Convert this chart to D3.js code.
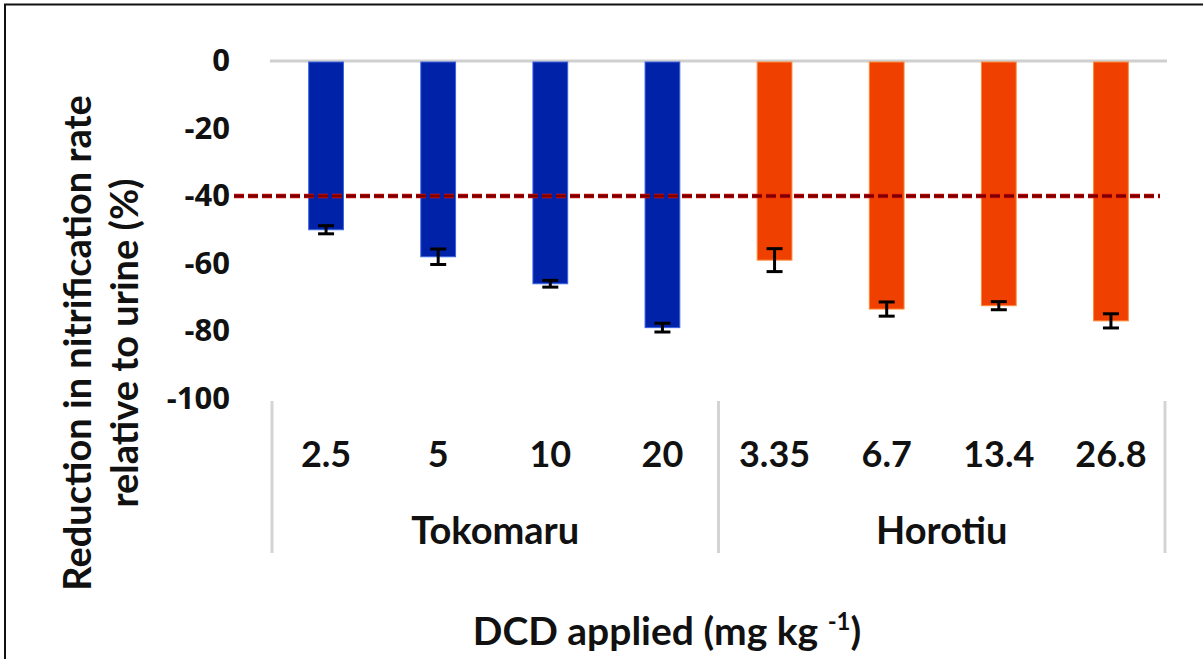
<!DOCTYPE html>
<html>
<head>
<meta charset="utf-8">
<script src="https://cdn.jsdelivr.net/npm/d3@7"></script>
<style>
  html, body { margin: 0; padding: 0; background: #fff; }
  svg { display: block; }
</style>
</head>
<body>
<div id="chart"></div>
<script>
// Data
const doses = ['2.5', '5', '10', '20', '3.35', '6.7', '13.4', '26.8'];
const sites = ['Tokomaru', 'Horotiu'];
const doseSite = ['Tokomaru', 'Tokomaru', 'Tokomaru', 'Tokomaru', 'Horotiu', 'Horotiu', 'Horotiu', 'Horotiu'];
const reduction = [-50, -58, -66, -79, -59, -73.5, -72.5, -77];
const errors = [1.2, 2.3, 1.0, 1.3, 3.4, 2.1, 1.2, 2.1];
const yTicks = [0, -20, -40, -60, -80, -100];
const threshold = -40;

const W = 1203, H = 659;
const plotLeft = 270, plotRight = 1167, plotTop = 61, plotBottom = 398.5;

const svg = d3.select('#chart').append('svg')
    .attr('width', W)
    .attr('height', H);

// frame: only top and left edges show in the source
svg.append('path')
    .attr('d', `M5,${H} V4.5 H${W}`)
    .attr('fill', 'none')
    .attr('stroke', '#111')
    .attr('stroke-width', 2);

const x = d3.scaleBand()
    .domain(doses)
    .range([plotLeft, plotRight])
    .paddingInner(0.69)
    .paddingOuter(0.345);

const y = d3.scaleLinear()
    .domain([-100, 0])
    .range([plotBottom, plotTop]);

const color = d3.scaleOrdinal()
    .domain(sites)
    .range(['#0022a8', '#f04000']);
const edge = d3.scaleOrdinal()
    .domain(sites)
    .range(['#3a63e0', '#ff8a3a']);

// zero line
svg.append('line')
    .attr('x1', plotLeft).attr('x2', plotRight)
    .attr('y1', y(0)).attr('y2', y(0))
    .attr('stroke', '#cfcfcf')
    .attr('stroke-width', 3);

// y axis (plain hyphen minus, as in the source)
const yAxis = svg.append('g')
    .attr('transform', `translate(${plotLeft},0)`)
    .call(d3.axisLeft(y).tickValues(yTicks).tickFormat(d => String(d)).tickSize(0).tickPadding(40));
yAxis.select('.domain').remove();
yAxis.selectAll('text')
    .attr('font-family', '"Open Sans", sans-serif')
    .attr('font-weight', 'bold')
    .attr('font-size', 31)
    .attr('fill', '#111');

// bars
svg.selectAll('rect.bar')
    .data(doses)
    .enter()
    .append('rect')
    .attr('class', 'bar')
    .attr('x', d => x(d))
    .attr('y', y(0) + 1)
    .attr('width', x.bandwidth())
    .attr('height', (d, i) => y(reduction[i]) - y(0) - 1)
    .attr('fill', (d, i) => color(doseSite[i]))
    .attr('stroke', (d, i) => edge(doseSite[i]))
    .attr('stroke-width', 1);

// error bars
const err = svg.selectAll('g.err')
    .data(doses)
    .enter()
    .append('g')
    .attr('class', 'err')
    .attr('stroke', '#000')
    .attr('stroke-width', 3);
err.append('line')
    .attr('x1', d => x(d) + x.bandwidth() / 2)
    .attr('x2', d => x(d) + x.bandwidth() / 2)
    .attr('y1', (d, i) => y(reduction[i] + errors[i]))
    .attr('y2', (d, i) => y(reduction[i] - errors[i]));
[1, -1].forEach(s => {
    err.append('line')
        .attr('x1', d => x(d) + x.bandwidth() / 2 - 8)
        .attr('x2', d => x(d) + x.bandwidth() / 2 + 8)
        .attr('y1', (d, i) => y(reduction[i] + s * errors[i]))
        .attr('y2', (d, i) => y(reduction[i] + s * errors[i]));
});

// threshold line
svg.append('line')
    .attr('x1', 234).attr('x2', 1160)
    .attr('y1', y(threshold)).attr('y2', y(threshold))
    .attr('stroke', '#e01010')
    .attr('stroke-width', 4.5)
    .attr('stroke-dasharray', '10 4');
svg.append('line')
    .attr('x1', 234).attr('x2', 1160)
    .attr('y1', y(threshold)).attr('y2', y(threshold))
    .attr('stroke', '#7a0000')
    .attr('stroke-width', 3)
    .attr('stroke-dasharray', '10 4');

// category axis
const xAxis = svg.append('g')
    .attr('transform', `translate(0,${plotBottom})`)
    .call(d3.axisBottom(x).tickSize(0).tickPadding(43));
xAxis.select('.domain').remove();
xAxis.selectAll('text')
    .attr('font-family', 'Lato, sans-serif')
    .attr('font-weight', 'bold')
    .attr('font-size', 36)
    .attr('fill', '#111');

// group separators and names
const groupEdges = [x(doses[0]) - x.step() * 0.345 + 2, x(doses[4]) - x.step() * 0.345, x(doses[7]) + x.bandwidth() + x.step() * 0.345 - 2];
svg.selectAll('line.sep')
    .data(groupEdges)
    .enter()
    .append('line')
    .attr('class', 'sep')
    .attr('x1', d => d).attr('x2', d => d)
    .attr('y1', 401).attr('y2', 553)
    .attr('stroke', '#d4d4d4')
    .attr('stroke-width', 3);

svg.selectAll('text.site')
    .data(sites)
    .enter()
    .append('text')
    .attr('class', 'site')
    .attr('x', (d, i) => (groupEdges[i] + groupEdges[i + 1]) / 2)
    .attr('y', 544)
    .attr('text-anchor', 'middle')
    .attr('font-family', 'Lato, sans-serif')
    .attr('font-weight', 'bold')
    .attr('font-size', 38)
    .attr('fill', '#111')
    .text(d => d);

// axis titles
const yTitle = svg.append('text')
    .attr('transform', 'translate(91,343) rotate(-90)')
    .attr('text-anchor', 'middle')
    .attr('font-family', 'Lato, sans-serif')
    .attr('font-weight', 'bold')
    .attr('font-size', 38)
    .attr('fill', '#111');
yTitle.append('tspan').attr('x', 0).attr('dy', 0).text('Reduction in nitrification rate');
yTitle.append('tspan').attr('x', 0).attr('dy', 47).text('relative to urine (%)');

const xTitle = svg.append('text')
    .attr('x', 667)
    .attr('y', 645)
    .attr('text-anchor', 'middle')
    .attr('font-family', 'Lato, sans-serif')
    .attr('font-weight', 'bold')
    .attr('font-size', 39)
    .attr('fill', '#111');
xTitle.append('tspan').text('DCD applied (mg kg ');
xTitle.append('tspan').attr('font-size', 24).attr('dy', -15).text('-1');
xTitle.append('tspan').attr('dy', 15).text(')');
</script>
</body>
</html>
